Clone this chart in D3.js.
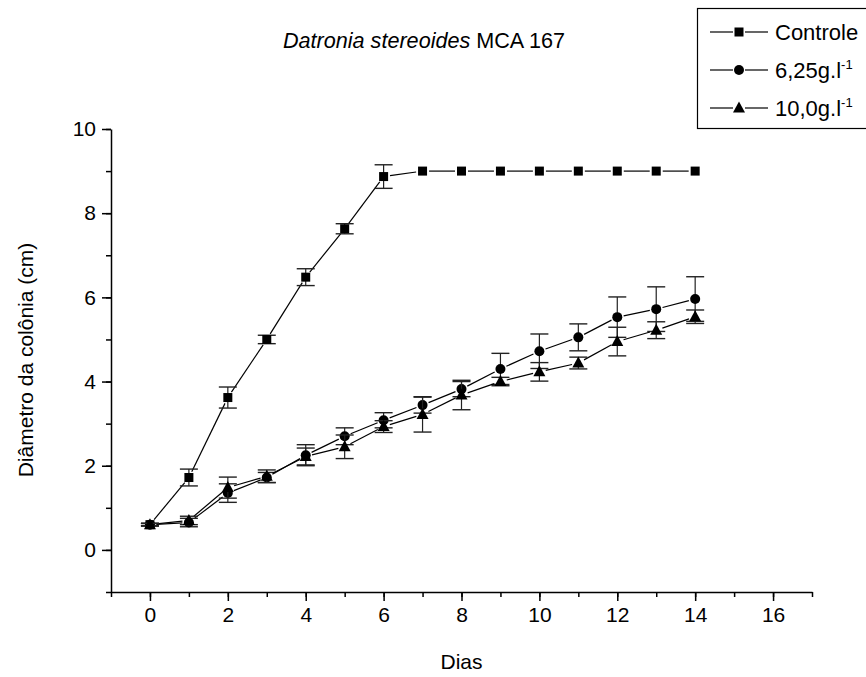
<!DOCTYPE html>
<html>
<head>
<meta charset="utf-8">
<script src="https://cdn.jsdelivr.net/npm/d3@7"></script>
<style>
  body { margin: 0; background: #fff; }
  svg { font-family: Arial, "Liberation Sans", sans-serif; }
</style>
</head>
<body>
<svg width="866" height="677"></svg>
<script>
// data
var days = [0, 1, 2, 3, 4, 5, 6, 7, 8, 9, 10, 11, 12, 13, 14];
var controle    = [0.6, 1.72, 3.62, 5.0, 6.48, 7.63, 8.87, 9.0, 9.0, 9.0, 9.0, 9.0, 9.0, 9.0, 9.0];
var controleErr = [0.03, 0.2, 0.25, 0.1, 0.2, 0.12, 0.28, 0, 0, 0, 0, 0, 0, 0, 0];
var dose625     = [0.6, 0.65, 1.35, 1.72, 2.25, 2.7, 3.08, 3.44, 3.82, 4.3, 4.72, 5.05, 5.53, 5.72, 5.96];
var dose625Err  = [0.03, 0.1, 0.22, 0.12, 0.25, 0.2, 0.18, 0.19, 0.18, 0.37, 0.41, 0.32, 0.48, 0.53, 0.53];
var dose10      = [0.6, 0.7, 1.48, 1.75, 2.22, 2.45, 2.93, 3.22, 3.68, 4.0, 4.23, 4.44, 4.95, 5.22, 5.54];
var dose10Err   = [0.03, 0.1, 0.25, 0.15, 0.2, 0.28, 0.14, 0.42, 0.35, 0.1, 0.22, 0.14, 0.34, 0.2, 0.16];

var xTicks = [0, 2, 4, 6, 8, 10, 12, 14, 16];
var yTicks = [0, 2, 4, 6, 8, 10];
var seriesNames = ["Controle", "6,25g.l", "10,0g.l"];

var series = [
  {name: seriesNames[0], vals: controle, err: controleErr, shape: "square"},
  {name: seriesNames[1], vals: dose625, err: dose625Err, shape: "circle"},
  {name: seriesNames[2], vals: dose10, err: dose10Err, shape: "triangle"}
];

var svg = d3.select("svg");
var fontFam = "Arial, 'Liberation Sans', sans-serif";

var x = d3.scaleLinear().domain([-1, 17]).range([111, 812]);
var y = d3.scaleLinear().domain([-1, 10]).range([592, 129]);

// minor ticks first
svg.append("g")
   .attr("transform", "translate(0," + y(-1) + ")")
   .call(d3.axisBottom(x).tickValues(d3.range(-1, 18, 1)).tickSize(5).tickSizeOuter(0).tickFormat(""))
   .call(function(g){ g.select(".domain").remove(); })
   .selectAll("line").attr("stroke-width", 1.5);

svg.append("g")
   .attr("transform", "translate(" + x(-1) + ",0)")
   .call(d3.axisLeft(y).tickValues(d3.range(-1, 11, 1)).tickSize(5).tickSizeOuter(0).tickFormat(""))
   .call(function(g){ g.select(".domain").remove(); })
   .selectAll("line").attr("stroke-width", 1.5);

// major axes
var xAxis = svg.append("g")
   .attr("transform", "translate(0," + y(-1) + ")")
   .call(d3.axisBottom(x).tickValues(xTicks).tickSize(9).tickSizeOuter(0).tickPadding(6));
xAxis.attr("font-size", 21).attr("font-family", fontFam);
xAxis.select(".domain").attr("stroke-width", 1.5);
xAxis.selectAll("line").attr("stroke-width", 1.5);

var yAxis = svg.append("g")
   .attr("transform", "translate(" + x(-1) + ",0)")
   .call(d3.axisLeft(y).tickValues(yTicks).tickSize(9).tickSizeOuter(0).tickPadding(6));
yAxis.attr("font-size", 21).attr("font-family", fontFam);
yAxis.select(".domain").attr("stroke-width", 1.5);
yAxis.selectAll("line").attr("stroke-width", 1.5);

// axis titles
svg.append("text")
   .attr("x", x(8)).attr("y", 669)
   .attr("text-anchor", "middle")
   .attr("font-size", 21)
   .text("Dias");

svg.append("text")
   .attr("transform", "translate(33,360) rotate(-90)")
   .attr("text-anchor", "middle")
   .attr("font-size", 21)
   .text("Diâmetro da colônia (cm)");

var title = svg.append("text")
   .attr("x", 283).attr("y", 48)
   .attr("font-size", 21.6);
title.append("tspan").attr("font-style", "italic").text("Datronia stereoides");
title.append("tspan").text(" MCA 167");

function drawMarker(g, shape, cx, cy) {
  if (shape == "square") {
    g.append("rect").attr("x", cx - 4.5).attr("y", cy - 4.5).attr("width", 9).attr("height", 9).attr("fill", "#000");
  } else if (shape == "circle") {
    g.append("circle").attr("cx", cx).attr("cy", cy).attr("r", 5).attr("fill", "#000");
  } else {
    g.append("path")
     .attr("d", "M" + cx + "," + (cy - 6.5) + "L" + (cx + 6) + "," + (cy + 4.5) + "L" + (cx - 6) + "," + (cy + 4.5) + "Z")
     .attr("fill", "#000");
  }
}

// lines with gaps round the markers, error bars, then markers
var gap = 6.5;
series.forEach(function(s) {
  var g = svg.append("g");
  for (var i = 0; i < days.length - 1; i++) {
    var x1 = x(days[i]), y1 = y(s.vals[i]), x2 = x(days[i + 1]), y2 = y(s.vals[i + 1]);
    var len = Math.sqrt((x2 - x1) * (x2 - x1) + (y2 - y1) * (y2 - y1));
    var ux = (x2 - x1) / len, uy = (y2 - y1) / len;
    g.append("line")
     .attr("x1", x1 + ux * gap).attr("y1", y1 + uy * gap)
     .attr("x2", x2 - ux * gap).attr("y2", y2 - uy * gap)
     .attr("stroke", "#000").attr("stroke-width", 1.2);
  }
  days.forEach(function(d, i) {
    if (!s.err[i]) return;
    var cx = x(d), top = y(s.vals[i] + s.err[i]), bot = y(s.vals[i] - s.err[i]);
    g.append("line").attr("x1", cx).attr("x2", cx).attr("y1", top).attr("y2", bot)
     .attr("stroke", "#222").attr("stroke-width", 1.2);
    [top, bot].forEach(function(yy) {
      g.append("line").attr("x1", cx - 9).attr("x2", cx + 9).attr("y1", yy).attr("y2", yy)
       .attr("stroke", "#222").attr("stroke-width", 1.4);
    });
  });
  days.forEach(function(d, i) {
    drawMarker(g, s.shape, x(d), y(s.vals[i]));
  });
});

// legend
var lg = svg.append("g");
lg.append("rect").attr("x", 697.5).attr("y", 8.5).attr("width", 200).attr("height", 120)
  .attr("fill", "#fff").attr("stroke", "#000").attr("stroke-width", 1.2);
series.forEach(function(s, i) {
  var ly = 32 + i * 38;
  lg.append("line").attr("x1", 710).attr("x2", 733).attr("y1", ly).attr("y2", ly).attr("stroke", "#000").attr("stroke-width", 1.2);
  lg.append("line").attr("x1", 745).attr("x2", 768).attr("y1", ly).attr("y2", ly).attr("stroke", "#000").attr("stroke-width", 1.2);
  drawMarker(lg, s.shape, 739, ly);
  var t = lg.append("text").attr("x", 775).attr("y", ly + 8).attr("font-size", 22).text(s.name);
  if (i > 0) t.append("tspan").attr("dy", -9).attr("font-size", 13).text("-1");
});
</script>
</body>
</html>
